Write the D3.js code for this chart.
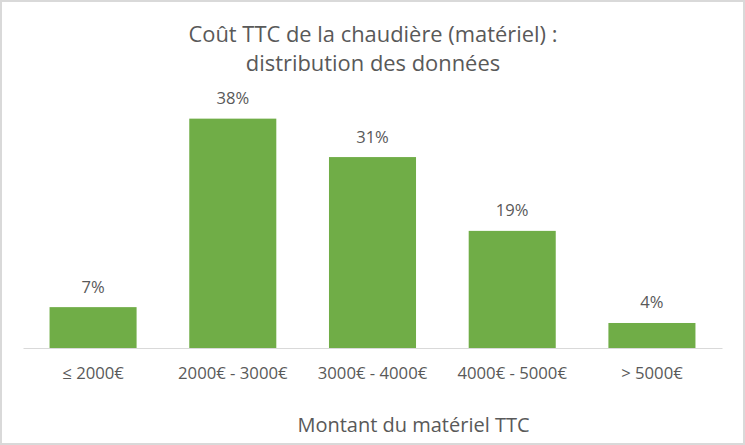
<!DOCTYPE html>
<html><head><meta charset="utf-8">
<script src="https://cdn.jsdelivr.net/npm/d3@7"></script>
<style>body{margin:0;background:#fff;}svg{display:block;}</style>
</head><body>
<script>
const categories = ["≤ 2000€", "2000€ - 3000€", "3000€ - 4000€", "4000€ - 5000€", "> 5000€"];
const values = [6.7, 37.6, 31.3, 19.2, 4.1];
const titleLines = ["Coût TTC de la chaudière (matériel) :", "distribution des données"];
const xTitle = "Montant du matériel TTC";

const W = 745, H = 445;
const font = "'Open Sans', 'Noto Sans', sans-serif";
const txt = "#595959";
const svg = d3.select("body").append("svg").attr("width", W).attr("height", H);
svg.append("rect").attr("x", 1).attr("y", 1).attr("width", W - 2).attr("height", H - 2)
  .attr("fill", "#fff").attr("stroke", "#d9d9d9").attr("stroke-width", 2);

const x = d3.scaleBand().domain(categories).range([23, 722]).paddingInner(0.377).paddingOuter(0.19);
const y = d3.scaleLinear().domain([0, 40]).range([348, 104]);

svg.selectAll("rect.bar").data(values).join("rect").attr("class", "bar")
  .attr("x", (d, i) => x(categories[i])).attr("width", x.bandwidth())
  .attr("y", d => y(d)).attr("height", d => y(0) - y(d)).attr("fill", "#70AD47");

const xAxis = d3.axisBottom(x).tickSize(0).tickPadding(0);
const gx = svg.append("g").attr("transform", `translate(0,${y(0)})`).call(xAxis);
gx.select(".domain").attr("stroke", "#d9d9d9").attr("stroke-width", 1);
gx.selectAll("text").attr("font-family", font).attr("font-size", 16.7).attr("fill", txt)
  .attr("dy", null).attr("y", 31);

svg.selectAll("text.lab").data(values).join("text").attr("class", "lab")
  .attr("x", (d, i) => x(categories[i]) + x.bandwidth() / 2).attr("y", d => y(d) - 14.5)
  .attr("text-anchor", "middle").attr("font-family", font).attr("font-size", 16.6).attr("fill", txt)
  .text(d => d3.format(".0f")(d) + "%");

svg.selectAll("text.title").data(titleLines).join("text").attr("class", "title")
  .attr("x", W / 2 + 0.5).attr("y", (d, i) => 42 + i * 28.5).attr("text-anchor", "middle")
  .attr("font-family", font).attr("font-size", 21.9).attr("fill", txt).text(d => d);

svg.append("text").attr("x", 413.5).attr("y", 432).attr("text-anchor", "middle")
  .attr("font-family", font).attr("font-size", 20).attr("fill", txt).text(xTitle);
</script>
</body></html>
